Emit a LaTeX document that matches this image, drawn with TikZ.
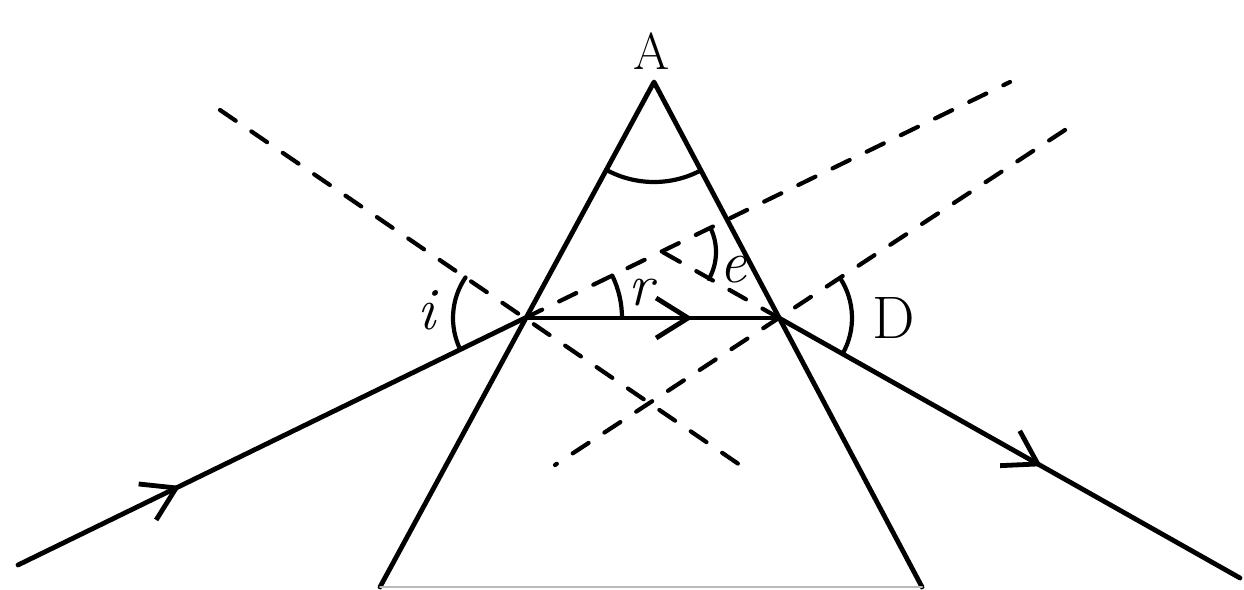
\documentclass[tikz,border=0pt]{standalone}
\usetikzlibrary{arrows.meta,decorations.markings}

\tikzset{
  dashline/.style={line width=4.2pt, dash pattern=on 19pt off 19pt},
  anglearc/.style={line width=4.2pt},
  midarrow/.style={postaction={decorate},
    decoration={markings, mark=at position #1 with {\arrow{Straight Barb[length=32pt,width=40pt]}}}},
  lbl/.style={anchor=center, inner sep=0pt, font=\fontsize{52}{62}\selectfont},
  ilbl/.style={anchor=center, inner sep=0pt, font=\fontsize{60}{70}\selectfont\itshape},
}

\begin{document}
\begin{tikzpicture}[x=1pt, y=-1pt, line width=4.8pt, line cap=round, line join=round]

  %% ════ 关键点 ════
  \coordinate (A) at (654,82);     % 顶角
  \coordinate (B) at (380,587);
  \coordinate (C) at (922,587);
  \coordinate (P) at (525,318);    % 入射点
  \coordinate (Q) at (779,318);    % 出射点
  \coordinate (S) at (18,565);     % 入射光起点
  \coordinate (T) at (1240,578);   % 出射光终点
  \coordinate (X) at (661,252);    % 两条延长线的交点
  \coordinate (N1a) at (220,110);
  \coordinate (N1b) at (740,465);
  \coordinate (N2a) at (1065,130);
  \coordinate (N2b) at (555,465);
  \coordinate (E1) at (1010,82);
  \coordinate (E2) at (652,246);

  %% ════ 棱镜 ════
  \draw (B) -- (A) -- (C);
  \draw[gray!55, line width=2pt] (B) -- (C);

  %% ════ 法线、延长线（虚线）════
  \draw[dashline] (N1a) -- (N1b);
  \draw[dashline] (N2a) -- (N2b);
  \draw[dashline] (P) -- (E1);
  \draw[dashline] (Q) -- (E2);

  %% ════ 光线 ════
  \draw[midarrow=0.32] (S) -- (P);
  \draw[midarrow=0.66] (P) -- (Q);
  \draw[midarrow=0.57] (Q) -- (T);

  %% ════ 角弧（y 轴朝下，角度取反）════
  \draw[anglearc] (A) ++(-241.5:100) arc[start angle=-241.5, end angle=-298, radius=100];
  \draw[anglearc] (P) ++(-145.7:72) arc[start angle=-145.7, end angle=-206, radius=72];
  \draw[anglearc] (P) ++(0:97) arc[start angle=0, end angle=-26, radius=97];
  \draw[anglearc] (X) ++(-26:55) arc[start angle=-26, end angle=29.4, radius=55];
  \draw[anglearc] (Q) ++(-33.3:73) arc[start angle=-33.3, end angle=29.4, radius=73];

  %% ════ 标签 ════
  \node[lbl] (labA) at (652,51) {A};
  \node[lbl, font=\fontsize{60}{70}\selectfont] (labD) at (894,318) {D};
  \node[ilbl] (labi) at (426,310) {i};
  \node[ilbl] (labr) at (641,293) {r};
  \node[ilbl] (labe) at (733,270) {e};

  % 钉死画布
  \pgfresetboundingbox
  \path[use as bounding box] (0,0) rectangle (1244,589);
\end{tikzpicture}
\end{document}
